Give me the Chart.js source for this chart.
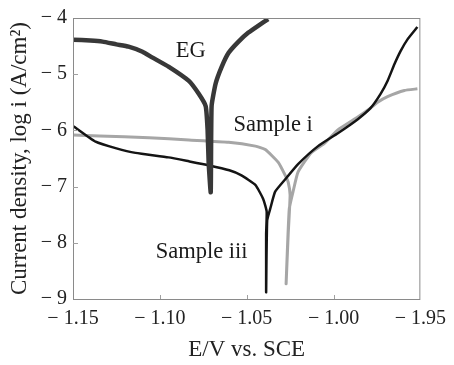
<!DOCTYPE html>
<html>
<head>
<meta charset="utf-8">
<script src="https://cdn.jsdelivr.net/npm/chart.js@4/dist/chart.umd.min.js"></script>
<style>
  body { margin: 0; background: #fff; }
  canvas { display: block; }
</style>
</head>
<body>
<canvas id="tafel" width="454" height="365"></canvas>
<script>
// tick values and the labels printed under them (last one is "-1.95" in the original)
var xTickValues = [-1.15, -1.10, -1.05, -1.00, -0.95];
var xTickLabels = ["\u2212 1.15", "\u2212 1.10", "\u2212 1.05", "\u2212 1.00", "\u2212 1.95"];
var yTickValues = [-9, -8, -7, -6, -5, -4];

// EG
var egE    = [-1.150, -1.140, -1.133, -1.125, -1.118, -1.110, -1.1045, -1.0948, -1.0833, -1.0776, -1.0736, -1.0725, -1.0719, -1.0707,
              -1.0702, -1.0679, -1.0644, -1.0604, -1.0547, -1.049, -1.043, -1.0376];
var egLogI = [-4.385, -4.40, -4.42, -4.47, -4.51, -4.60, -4.70, -4.87, -5.12, -5.35, -5.57, -5.99, -6.57, -7.10,
              -5.57, -5.17, -4.87, -4.62, -4.42, -4.26, -4.13, -4.02];

// Sample iii
var s3E    = [-1.150, -1.137, -1.125, -1.114, -1.095, -1.0833, -1.072, -1.060, -1.053, -1.045, -1.0405, -1.0385, -1.0388, -1.0388, -1.0388,
              -1.0382, -1.0364, -1.0336, -1.0278, -1.0204, -1.0089, -0.9975, -0.9860, -0.9786, -0.9729, -0.9689, -0.9649, -0.9614, -0.9574, -0.9517];
var s3LogI = [-5.92, -6.20, -6.32, -6.40, -6.48, -6.55, -6.62, -6.71, -6.80, -6.97, -7.22, -7.44, -7.85, -8.44, -8.88,
              -7.60, -7.39, -7.09, -6.87, -6.60, -6.28, -6.05, -5.80, -5.60, -5.35, -5.12, -4.82, -4.59, -4.38, -4.16];

// Sample i
var s1E    = [-1.150, -1.1348, -1.1062, -1.0833, -1.0604, -1.045, -1.0393, -1.0318, -1.0278, -1.0261, -1.025, -1.0261, -1.0273,
              -1.0255, -1.0233, -1.0204, -1.013, -1.0049, -0.9975, -0.9860, -0.9786, -0.9746, -0.9689, -0.9592, -0.9517];
var s1LogI = [-6.08, -6.10, -6.13, -6.17, -6.21, -6.28, -6.34, -6.57, -6.80, -6.92, -7.15, -7.85, -8.73,
              -7.40, -7.09, -6.74, -6.40, -6.22, -5.99, -5.76, -5.60, -5.50, -5.40, -5.29, -5.26];

// curve names written on the plot, anchored in data units (left, baseline)
var noteText = ["EG", "Sample i", "Sample iii"];
var noteE    = [-1.0909, -1.0576, -1.1024];
var noteLogI = [-4.69, -6.01, -8.27];

function pts(xs, ys) {
    var out = [];
    for (var i = 0; i < xs.length; i++) {
        out.push({x: xs[i], y: ys[i]});
    }
    return out;
}

var serif = "'Liberation Serif', 'Times New Roman', serif";

var framePlugin = {
    id: 'frame',
    afterDatasetsDraw: function(chart) {
        var ctx = chart.ctx;
        var a = chart.chartArea;
        var xs = chart.scales.x, ys = chart.scales.y;
        ctx.save();
        ctx.strokeStyle = '#8a8a8a';
        ctx.lineWidth = 1;
        ctx.strokeRect(a.left + 0.5, a.top + 0.5, a.right - a.left - 1, a.bottom - a.top);
        // small inward ticks
        ctx.strokeStyle = '#a0a0a0';
        ctx.beginPath();
        for (var i = 1; i < xTickValues.length - 1; i++) {
            var px = Math.round(xs.getPixelForValue(xTickValues[i])) + 0.5;
            ctx.moveTo(px, a.bottom);
            ctx.lineTo(px, a.bottom - 4);
        }
        for (var j = 1; j < yTickValues.length - 1; j++) {
            var py = Math.round(ys.getPixelForValue(yTickValues[j])) + 0.5;
            ctx.moveTo(a.left, py);
            ctx.lineTo(a.left + 5, py);
        }
        ctx.stroke();
        // curve names
        ctx.fillStyle = '#1a1a1a';
        ctx.font = "22.5px " + serif;
        ctx.textAlign = 'left';
        ctx.textBaseline = 'alphabetic';
        for (var k = 0; k < noteText.length; k++) {
            ctx.fillText(noteText[k], xs.getPixelForValue(noteE[k]), ys.getPixelForValue(noteLogI[k]));
        }
        ctx.restore();
    }
};

var ctx = document.getElementById('tafel').getContext('2d');
var chart = new Chart(ctx, {
    type: 'line',
    data: {
        datasets: [
            {
                label: 'EG',
                data: pts(egE, egLogI),
                borderColor: '#383838',
                borderWidth: 4.5,
                pointRadius: 0,
                tension: 0.15,
                fill: false
            },
            {
                label: 'Sample iii',
                data: pts(s3E, s3LogI),
                borderColor: '#141414',
                borderWidth: 2.5,
                pointRadius: 0,
                tension: 0.15,
                fill: false
            },
            {
                label: 'Sample i',
                data: pts(s1E, s1LogI),
                borderColor: '#a6a6a6',
                borderWidth: 3,
                pointRadius: 0,
                tension: 0.15,
                fill: false
            }
        ]
    },
    options: {
        responsive: false,
        animation: false,
        layout: { padding: { top: 13, right: 31, left: 0, bottom: 0 } },
        plugins: {
            legend: { display: false },
            tooltip: { enabled: false }
        },
        scales: {
            x: {
                type: 'linear',
                min: -1.15,
                max: -0.95,
                afterBuildTicks: function(scale) {
                    scale.ticks = xTickValues.map(function(v) { return {value: v}; });
                },
                afterFit: function(scale) { scale.height = 66; },
                grid: { display: false, drawTicks: false },
                border: { display: false },
                ticks: {
                    autoSkip: false,
                    maxRotation: 0,
                    padding: 8,
                    color: '#222',
                    font: { family: serif, size: 20 },
                    callback: function(v) {
                        for (var i = 0; i < xTickValues.length; i++) {
                            if (Math.abs(xTickValues[i] - v) < 1e-6) return xTickLabels[i];
                        }
                        return '';
                    }
                },
                title: {
                    display: true,
                    text: 'E/V vs. SCE',
                    color: '#222',
                    font: { family: serif, size: 23, lineHeight: 1.2 },
                    padding: { top: 0, bottom: 1 }
                }
            },
            y: {
                min: -9,
                max: -4,
                afterBuildTicks: function(scale) {
                    scale.ticks = yTickValues.map(function(v) { return {value: v}; });
                },
                afterFit: function(scale) { scale.width = 73; },
                grid: { display: false, drawTicks: false },
                border: { display: false },
                ticks: {
                    padding: 6,
                    color: '#222',
                    font: { family: serif, size: 20 },
                    callback: function(v) { return '\u2212 ' + Math.abs(v); }
                },
                title: {
                    display: true,
                    text: 'Current density, log i (A/cm\u00b2)',
                    color: '#222',
                    font: { family: serif, size: 23, lineHeight: 1.2 },
                    padding: { top: 6, bottom: 0 }
                }
            }
        }
    },
    plugins: [framePlugin]
});
</script>
</body>
</html>
